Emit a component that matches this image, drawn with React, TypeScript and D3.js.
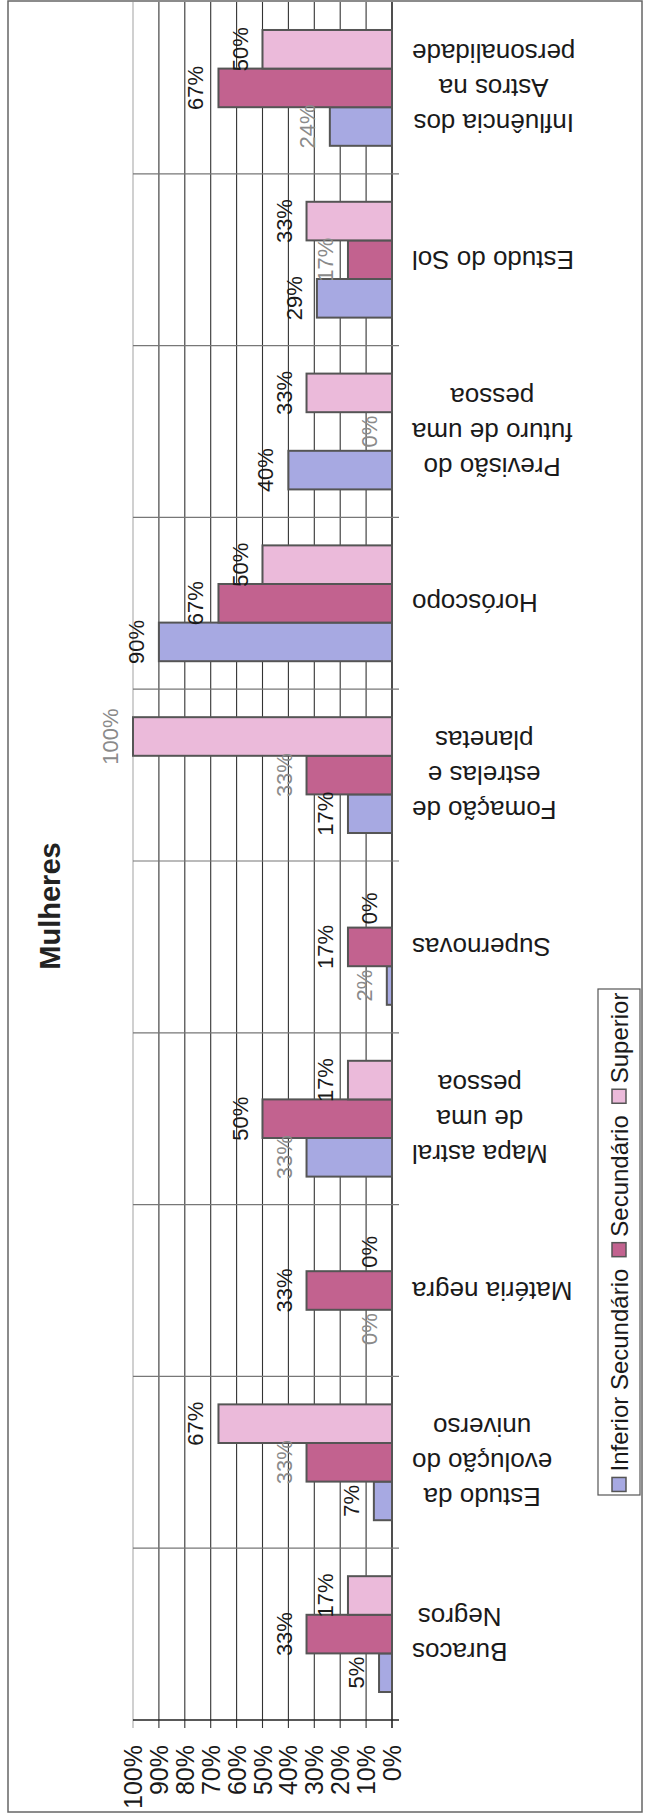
import React from 'react';
import * as d3 from 'd3';

// ---------- data ----------
const categories = [
  'Buracos Negros',
  'Estudo da evolução do universo',
  'Matéria negra',
  'Mapa astral de uma pessoa',
  'Supernovas',
  'Fomação de estrelas e planetas',
  'Horóscopo',
  'Previsão do futuro de uma pessoa',
  'Estudo do Sol',
  'Influência dos Astros na personalidade',
];
const categoryLines = [
  ['Buracos', 'Negros'],
  ['Estudo da', 'evolução do', 'universo'],
  ['Matéria negra'],
  ['Mapa astral', 'de uma', 'pessoa'],
  ['Supernovas'],
  ['Fomação de', 'estrelas e', 'planetas'],
  ['Horóscopo'],
  ['Previsão do', 'futuro de uma', 'pessoa'],
  ['Estudo do Sol'],
  ['Influência dos', 'Astros na', 'personalidade'],
];
const seriesNames = ['Inferior Secundário', 'Secundário', 'Superior'];
const inferior = [5, 7, 0, 33, 2, 17, 90, 40, 29, 24];
const secundario = [33, 33, 33, 50, 17, 33, 67, 0, 17, 67];
const superior = [17, 67, 0, 17, 0, 100, 50, 33, 33, 50];
const tickValues = [0, 10, 20, 30, 40, 50, 60, 70, 80, 90, 100];
const title = 'Mulheres';

// ---------- style ----------
const seriesColors = ['#a7a9e2', '#c2628f', '#ebbada'];
// labels printed lighter in the reference: [seriesIndex, categoryIndex]
const dimLabels = [[0, 9], [1, 5], [2, 5], [1, 1], [0, 3], [0, 4], [0, 2], [1, 7], [1, 8]];
const FONT = "'Liberation Sans', Arial, Helvetica, sans-serif";

const W = 648;
const H = 1815;
const plot = { left: 133, right: 392, top: 2, bottom: 1720 };

let ctx: CanvasRenderingContext2D | null = null;
function textWidth(s: string, size: number, weight = 'normal') {
  if (!ctx) {
    const c = document.createElement('canvas');
    ctx = c.getContext('2d');
  }
  if (ctx) {
    ctx.font = `${weight} ${size}px 'Liberation Sans', Arial, sans-serif`;
    return ctx.measureText(s).width;
  }
  return s.length * size * 0.55;
}

export default function App() {
  const seriesValues = [inferior, secundario, superior];

  // value axis: 0% at right, 100% at left
  const x = d3.scaleLinear().domain([0, 100]).range([plot.right, plot.left]);
  // categories: first at bottom
  const y = d3
    .scaleBand<string>()
    .domain([...categories].reverse())
    .range([plot.top, plot.bottom])
    .paddingInner(0)
    .paddingOuter(0);
  // series inside each category: Superior at top, Inferior at bottom
  const inner = d3
    .scaleBand<string>()
    .domain([...seriesNames].reverse())
    .range([0, y.bandwidth()])
    .paddingInner(0)
    .paddingOuter(0.725);

  const boundaries = categories.map((c) => (y(c) as number));

  const labelSize = 22;
  const catSize = 26;
  const catPitch = 35;
  const catLeft = 412;

  // legend layout (reads bottom to top)
  const legSize = 24;
  const legBox = { x: 598, y: 989, w: 42, h: 506 };
  const marker = 14;
  const legWidths = seriesNames.map((s) => textWidth(s, legSize));
  const itemLens = legWidths.map((w) => marker + 6 + w);
  const legGap = 12;
  const totalLen = itemLens.reduce((a, b) => a + b, 0) + legGap * (seriesNames.length - 1);
  const legCenterY = legBox.y + legBox.h / 2;
  let cursor = legCenterY + totalLen / 2; // bottom start
  const legItems = seriesNames.map((s, i) => {
    const start = cursor;
    cursor -= itemLens[i] + legGap;
    return { name: s, color: seriesColors[i], start };
  });
  const legCx = legBox.x + legBox.w / 2;

  return (
    <svg
      width={W}
      height={H}
      style={{ position: 'absolute', left: 0, top: 0, background: '#fff' }}
      fontFamily={FONT}
    >
      <rect x={0} y={0} width={W} height={H} fill="#fff" />
      {/* outer chart frame */}
      <rect x={8} y={1} width={634} height={1811} fill="none" stroke="#666" strokeWidth={1.5} />

      {/* vertical value gridlines */}
      {tickValues.map((t) => (
        <line
          key={'g' + t}
          x1={x(t)}
          x2={x(t)}
          y1={plot.top}
          y2={plot.bottom + 8}
          stroke={t === 100 ? '#aaa' : t === 0 ? '#222' : '#333'}
          strokeWidth={t === 0 ? 1.6 : 1.1}
        />
      ))}

      {/* category boundary lines */}
      {boundaries.map((b, i) =>
        i === categories.length - 1 ? null : (
          <line
            key={'cb' + i}
            x1={plot.left}
            x2={plot.right + 7}
            y1={b}
            y2={b}
            stroke="#777"
            strokeWidth={1.2}
          />
        )
      )}
      {/* category axis base */}
      <line x1={plot.left} x2={plot.right + 7} y1={plot.bottom} y2={plot.bottom} stroke="#222" strokeWidth={1.6} />

      {/* bars */}
      {seriesNames.map((s, si) =>
        categories.map((c, ci) => {
          const v = seriesValues[si][ci];
          const y0 = (y(c) as number) + (inner(s) as number);
          const bw = inner.bandwidth();
          const xe = x(v);
          return (
            <rect
              key={'b' + si + '-' + ci}
              x={xe}
              y={y0}
              width={Math.max(0, x(0) - xe)}
              height={bw}
              fill={seriesColors[si]}
              stroke="#555"
              strokeWidth={v === 0 ? 0 : 2}
            />
          );
        })
      )}

      {/* data labels */}
      {seriesNames.map((s, si) =>
        categories.map((c, ci) => {
          const v = seriesValues[si][ci];
          const cy = (y(c) as number) + (inner(s) as number) + inner.bandwidth() / 2;
          const bx = x(v) - 15;
          const dim = dimLabels.some(([a, b]) => a === si && b === ci);
          return (
            <text
              key={'l' + si + '-' + ci}
              transform={`translate(${bx},${cy}) rotate(-90)`}
              textAnchor="middle"
              fontSize={labelSize}
              fill={dim ? '#8a8a8a' : '#1a1a1a'}
            >
              {`${v}%`}
            </text>
          );
        })
      )}

      {/* category labels (upside down: first line lowest) */}
      {categories.map((c, ci) => {
        const lines = categoryLines[ci];
        const blockW = Math.max(...lines.map((l) => textWidth(l, catSize)));
        const cx = catLeft + blockW / 2;
        const center = (y(c) as number) + y.bandwidth() / 2;
        const n = lines.length;
        return (
          <g key={'c' + ci}>
            {lines.map((l, li) => {
              const cy = center - (li - (n - 1) / 2) * catPitch;
              return (
                <text
                  key={li}
                  transform={`translate(${cx},${cy}) rotate(180)`}
                  textAnchor="middle"
                  dominantBaseline="central"
                  fontSize={catSize}
                  fill="#1a1a1a"
                >
                  {l}
                </text>
              );
            })}
          </g>
        );
      })}

      {/* value tick labels */}
      {tickValues.map((t) => (
        <text
          key={'t' + t}
          transform={`translate(${x(t) + 9},${1745}) rotate(-90)`}
          textAnchor="end"
          fontSize={25}
          fill="#1a1a1a"
        >
          {`${t}%`}
        </text>
      ))}

      {/* title */}
      <text
        transform={`translate(60,906) rotate(-90)`}
        textAnchor="middle"
        fontSize={29}
        fontWeight="bold"
        fill="#222"
      >
        {title}
      </text>

      {/* legend */}
      <rect x={legBox.x} y={legBox.y} width={legBox.w} height={legBox.h} fill="#fff" stroke="#555" strokeWidth={1.2} />
      {legItems.map((it, i) => (
        <g key={'lg' + i}>
          <rect
            x={legCx - marker / 2}
            y={it.start - marker}
            width={marker}
            height={marker}
            fill={it.color}
            stroke="#555"
            strokeWidth={1.5}
          />
          <text
            transform={`translate(${legCx + 9},${it.start - marker - 6}) rotate(-90)`}
            textAnchor="start"
            fontSize={legSize}
            fill="#1a1a1a"
          >
            {it.name}
          </text>
        </g>
      ))}
    </svg>
  );
}
